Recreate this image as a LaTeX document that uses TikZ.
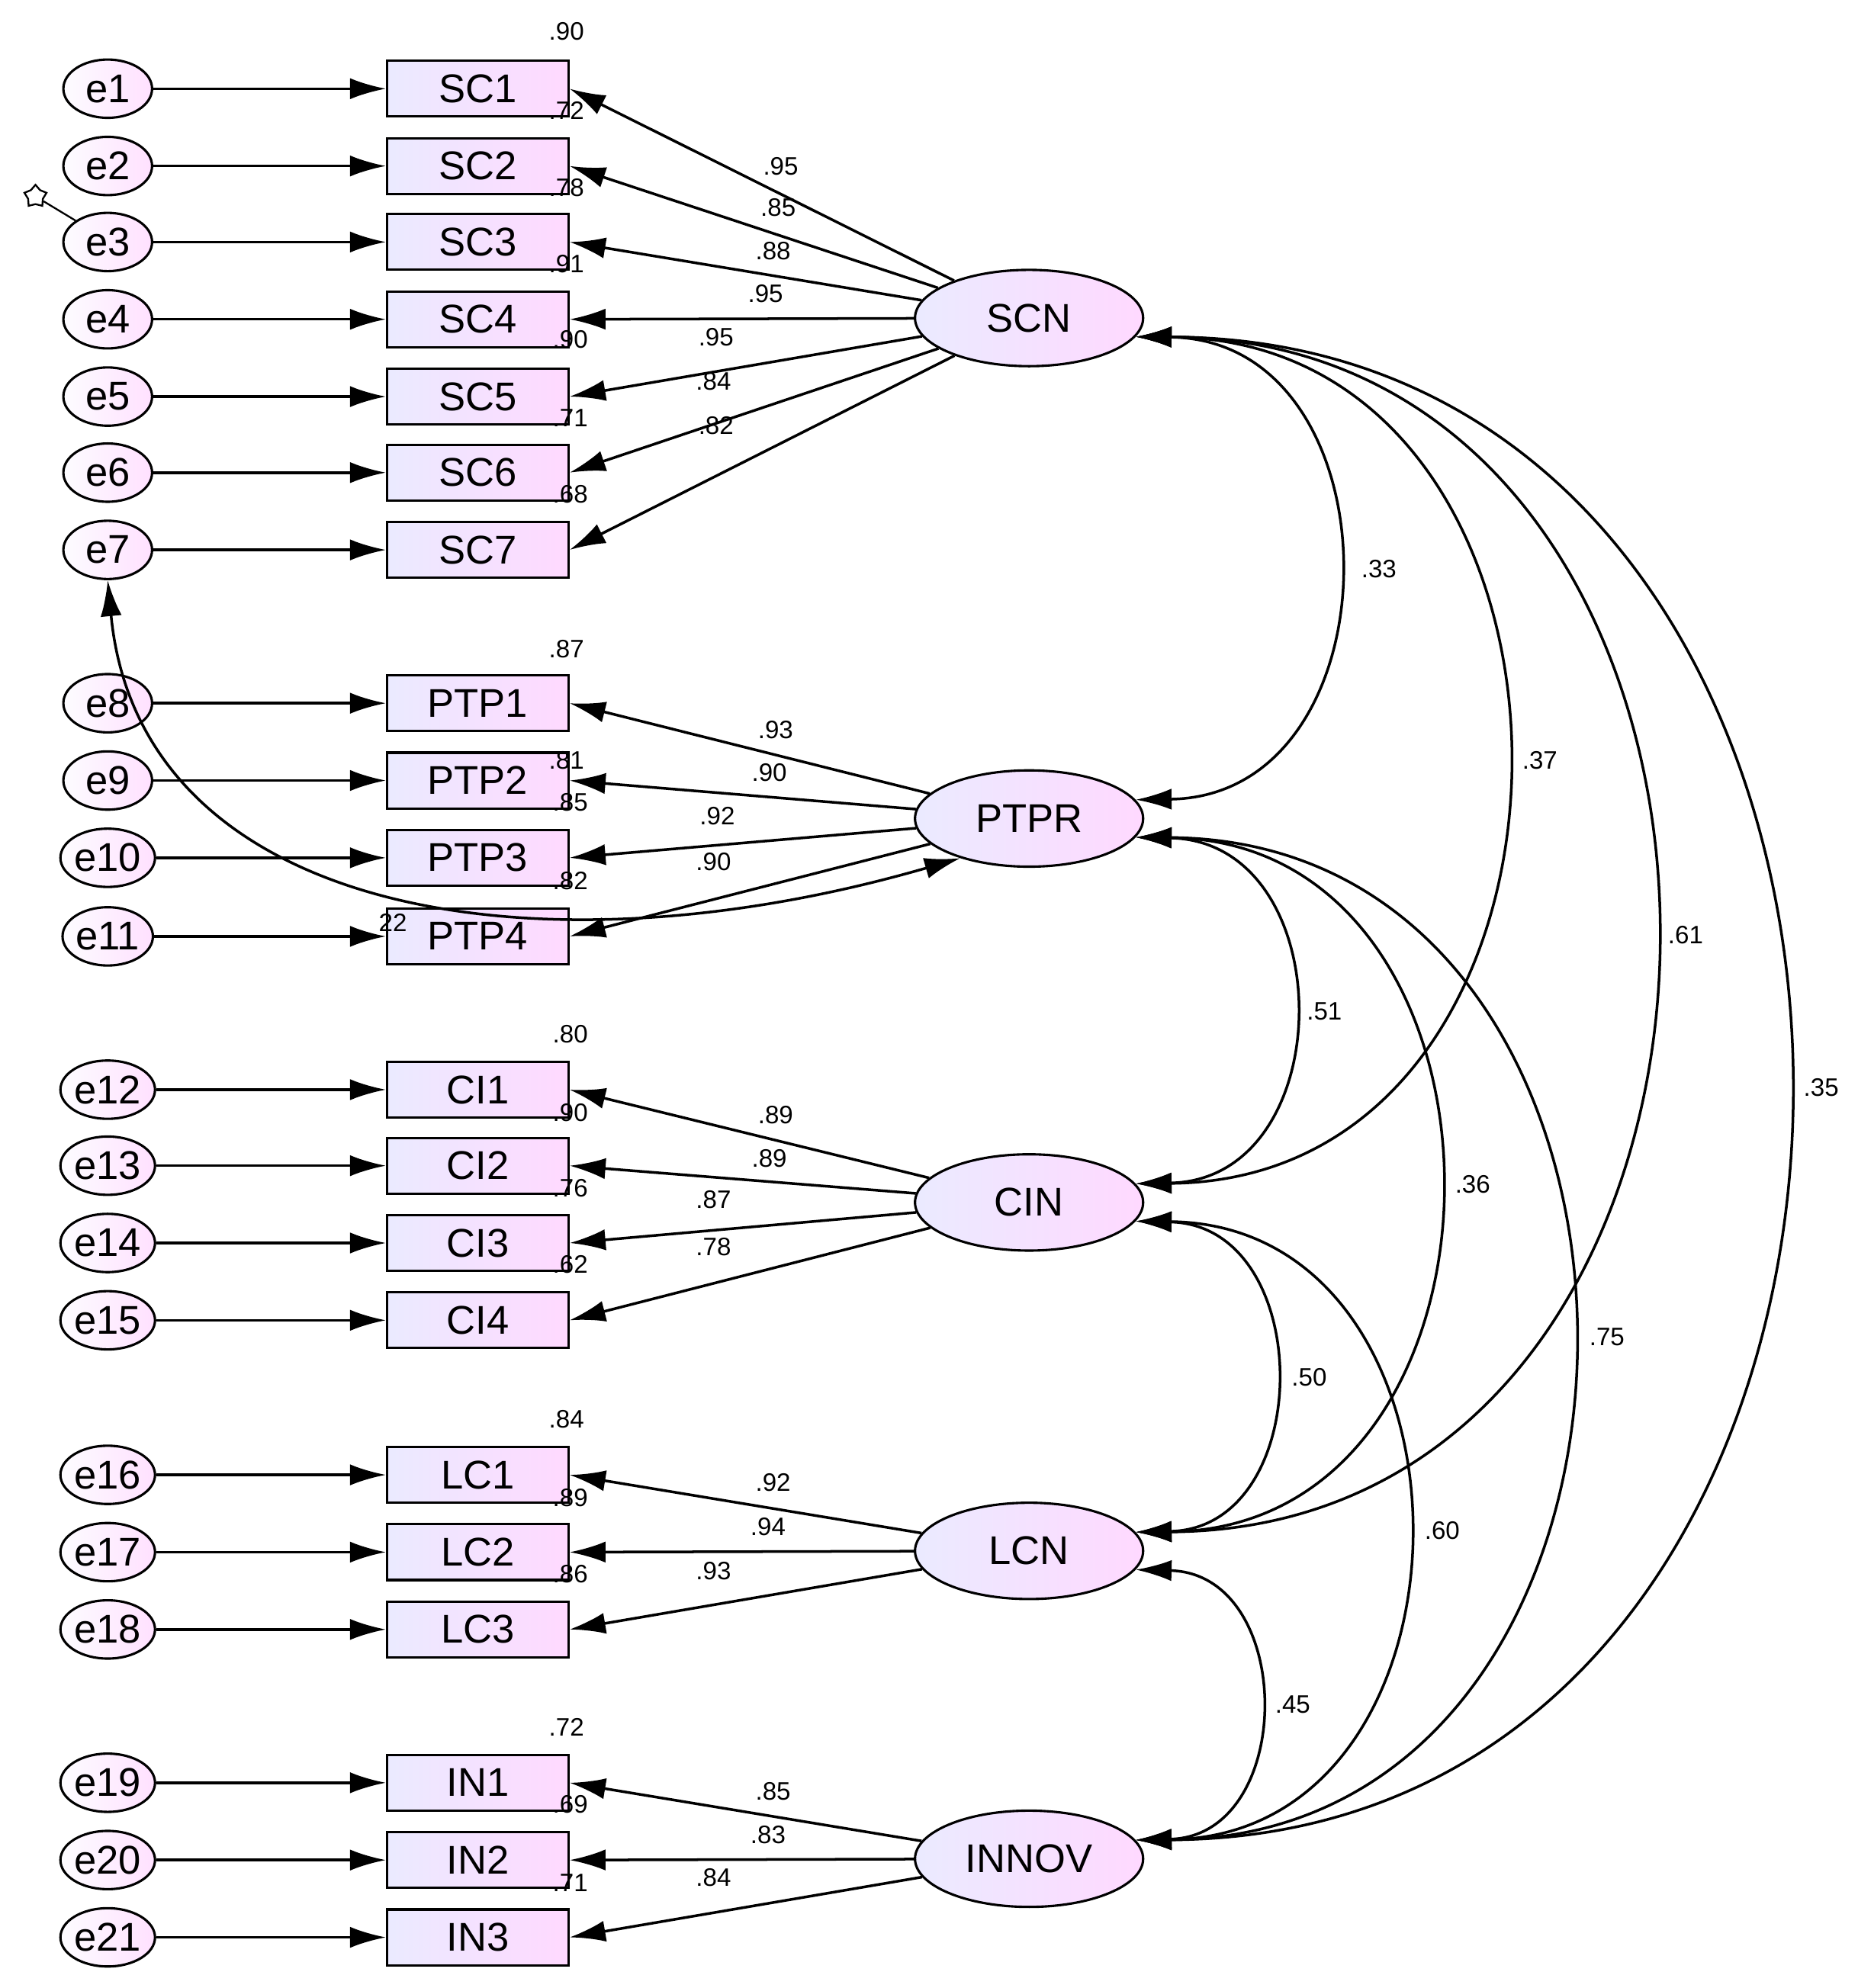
\documentclass[tikz,border=0pt]{standalone}
\usepackage{fontspec}
\setmainfont{Liberation Sans}
\usetikzlibrary{arrows.meta,shapes.geometric}
\begin{document}
\begin{tikzpicture}[x=0.03cm,y=-0.03cm,
  err/.style={ellipse,draw,line width=1.6pt,minimum width=2.1cm,minimum height=1.38cm,inner sep=0pt,left color=white!90!blue!10,right color=magenta!12,font=\fontsize{27}{27}\selectfont},
  obs/.style={rectangle,draw,line width=1.6pt,minimum width=4.29cm,minimum height=1.32cm,inner sep=0pt,left color=blue!8,right color=magenta!15,font=\fontsize{27}{27}\selectfont},
  lat/.style={ellipse,draw,line width=1.6pt,minimum width=5.4cm,minimum height=2.28cm,inner sep=0pt,left color=blue!8,right color=magenta!15,font=\fontsize{27}{27}\selectfont},
  arr/.style={line width=1.8pt,-{Latex[length=0.85cm,width=0.5cm]}},
  cov/.style={line width=1.8pt,{Latex[length=0.85cm,width=0.5cm]}-{Latex[length=0.85cm,width=0.5cm]}},
  lb/.style={font=\fontsize{17}{17}\selectfont,inner sep=0pt}]
\useasboundingbox (0,0) rectangle (1466,1569);
% errors and observed
\foreach \i/\n/\y in {1/SC1/70,2/SC2/131,3/SC3/191,4/SC4/252,5/SC5/313,6/SC6/373,7/SC7/434,
 8/PTP1/555,9/PTP2/616,10/PTP3/677,11/PTP4/739,12/CI1/860,13/CI2/920,14/CI3/981,15/CI4/1042,
 16/LC1/1164,17/LC2/1225,18/LC3/1286,19/IN1/1407,20/IN2/1468,21/IN3/1529}{
  \node[err] (e\i) at (85,\y) {e\i};
  \node[obs] (\n) at (377,\y) {\n};
  \draw[arr] (e\i) -- (\n);
}
% latents
\node[lat] (SCN) at (812,251) {SCN};
\node[lat] (PTPR) at (812,646) {PTPR};
\node[lat] (CIN) at (812,949) {CIN};
\node[lat] (LCN) at (812,1224) {LCN};
\node[lat] (INNOV) at (812,1467) {INNOV};
\foreach \n in {SC1,SC2,SC3,SC4,SC5,SC6,SC7}{\draw[arr] (SCN) -- (\n.east);}
\foreach \n in {PTP1,PTP2,PTP3,PTP4}{\draw[arr] (PTPR) -- (\n.east);}
\foreach \n in {CI1,CI2,CI3,CI4}{\draw[arr] (CIN) -- (\n.east);}
\foreach \n in {LC1,LC2,LC3}{\draw[arr] (LCN) -- (\n.east);}
\foreach \n in {IN1,IN2,IN3}{\draw[arr] (INNOV) -- (\n.east);}
% labels
\foreach \t/\x/\y in {.90/447/25,.72/447/87,.78/447/148,.91/447/208,.90/450/268,.71/450/330,.68/450/390,
 .95/616/131,.85/614/164,.88/610/198,.95/604/232,.95/565/266,.84/563/301,.82/565/336,
 .87/447/512,.81/447/600,.85/450/633,.82/450/695,.93/612/576,.90/607/610,.92/566/644,.90/563/680,
 .80/450/816,.90/450/878,.76/450/938,.62/450/998,.89/612/880,.89/607/914,.87/563/947,.78/563/984,
 .84/447/1120,.89/450/1182,.86/450/1242,.92/610/1170,.94/606/1205,.93/563/1240,
 .72/447/1363,.69/450/1424,.71/450/1486,.85/610/1414,.83/606/1448,.84/563/1482,
 .33/1088/449,.37/1215/600,.61/1330/738,.35/1437/858,.51/1045/798,.36/1162/935,.75/1268/1055,
 .50/1033/1087,.60/1138/1208,.45/1020/1345,22/310/728}{
  \node[lb] at (\x,\y) {\t};
}
% covariances
\draw[cov] (SCN.-10) .. controls (1106,268) and (1106,628) .. (PTPR.10);
\draw[cov] (SCN.-10) .. controls (1283,268) and (1283,931) .. (CIN.10);
\draw[cov] (SCN.-10) .. controls (1439,268) and (1439,1206) .. (LCN.10);
\draw[cov] (SCN.-10) .. controls (1579,268) and (1579,1449) .. (INNOV.10);
\draw[cov] (PTPR.-10) .. controls (1059,664) and (1059,931) .. (CIN.10);
\draw[cov] (PTPR.-10) .. controls (1212,664) and (1212,1206) .. (LCN.10);
\draw[cov] (PTPR.-10) .. controls (1352,664) and (1352,1449) .. (INNOV.10);
\draw[cov] (CIN.-10) .. controls (1039,967) and (1039,1206) .. (LCN.10);
\draw[cov] (CIN.-10) .. controls (1179,967) and (1179,1449) .. (INNOV.10);
\draw[cov] (LCN.-10) .. controls (1023,1242) and (1023,1449) .. (INNOV.10);
\draw[cov] (e7.south) .. controls (110,720) and (420,775) .. (PTPR.-150);
% small star mark
\node[star,draw,line width=1.2pt,minimum size=0.55cm,inner sep=0pt] (st) at (28,155) {};
\draw[line width=1.2pt] (st) -- (e3.north west);
\end{tikzpicture}
\end{document}
